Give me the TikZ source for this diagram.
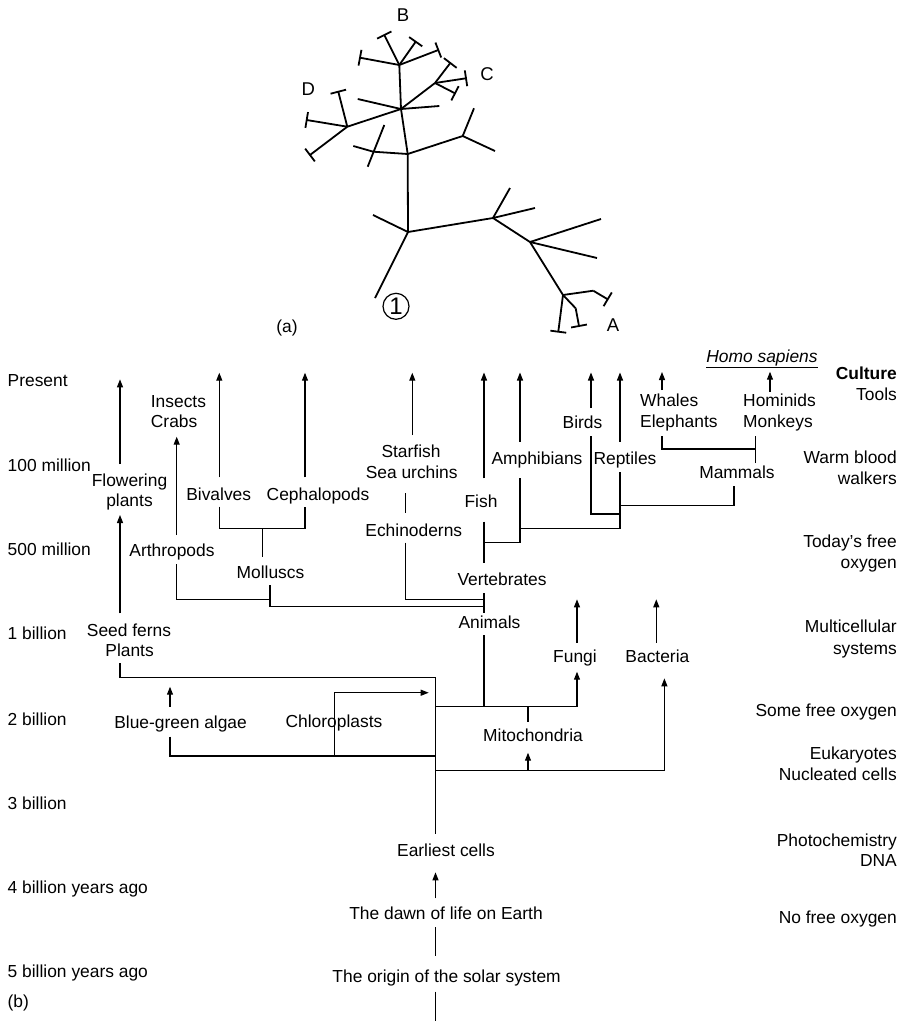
\documentclass[tikz,border=0pt]{standalone}
\usepackage{fontspec}
\setmainfont{Liberation Sans}
\usetikzlibrary{arrows.meta,calc}
\newcommand\tbr[2]{\draw[tree] (#1) -- (#2); \draw[tree] ($(#2)!8pt!90:(#1)$) -- ($(#2)!8pt!-90:(#1)$);}
\begin{document}
\begin{tikzpicture}[x=1pt,y=-1pt,
  tree/.style={line width=1.8pt},
  ln/.style={line width=1.1pt},
  arr/.style={line width=1.1pt,-{Triangle[length=8pt,width=6pt]}},
  lb/.style={font=\fontsize{17.4}{21}\selectfont,inner sep=0pt,text height=12.5pt,text depth=0pt},
  lw/.style={lb,anchor=west},
  le/.style={lb,anchor=east}]
\useasboundingbox (0,0) rectangle (902,1021);
% ---------------- (a) tree ----------------
\coordinate (r0) at (375,298);
\coordinate (n1) at (408,232);
\coordinate (l1) at (373,215);
\coordinate (n2) at (493,218);
\coordinate (l2a) at (510,188);
\coordinate (l2b) at (535,208);
\coordinate (n3) at (530,242);
\coordinate (l3a) at (601,219);
\coordinate (l3b) at (597,258);
\coordinate (n4) at (563,295);
\coordinate (k1) at (593.3,290.7);
\coordinate (a1) at (607.7,299.3);
\coordinate (k2) at (575.7,308.3);
\coordinate (a2) at (579,326);
\coordinate (a3) at (558.3,331.7);
\coordinate (n5) at (407.7,154);
\coordinate (m) at (373.3,151.7);
\coordinate (l5a) at (353.3,146);
\coordinate (x1) at (384.3,125);
\coordinate (x2) at (367.7,166.7);
\coordinate (q) at (462.7,136);
\coordinate (q1) at (474,108.3);
\coordinate (q2) at (495,151);
\coordinate (n6) at (401,109);
\coordinate (l6a) at (439.3,106);
\coordinate (l6b) at (357.7,99);
\coordinate (d) at (347.3,126.7);
\coordinate (d1) at (338.3,91.7);
\coordinate (d2) at (306.7,120);
\coordinate (d3) at (310,155);
\coordinate (c) at (435,83);
\coordinate (c1) at (450.3,63);
\coordinate (c2) at (466,78.3);
\coordinate (c3) at (455,93.3);
\coordinate (b) at (399.3,65);
\coordinate (b1) at (384.3,35);
\coordinate (b2) at (415.7,41.7);
\coordinate (b3) at (360,57.7);
\coordinate (b4) at (438.3,50);
\draw[tree] (r0) -- (n1) -- (n5) -- (n6) -- (b);
\draw[tree] (n1) -- (l1);
\draw[tree] (n1) -- (n2) -- (n3) -- (n4);
\draw[tree] (n2) -- (l2a);
\draw[tree] (n2) -- (l2b);
\draw[tree] (n3) -- (l3a);
\draw[tree] (n3) -- (l3b);
\draw[tree] (n4) -- (k1);
\tbr{k1}{a1}
\draw[tree] (n4) -- (k2);
\tbr{k2}{a2}
\tbr{n4}{a3}
\draw[tree] (n5) -- (m) -- (l5a);
\draw[tree] (x1) -- (x2);
\draw[tree] (n5) -- (q) -- (q1);
\draw[tree] (q) -- (q2);
\draw[tree] (n6) -- (l6a);
\draw[tree] (n6) -- (l6b);
\draw[tree] (n6) -- (d);
\tbr{d}{d1}
\tbr{d}{d2}
\tbr{d}{d3}
\draw[tree] (n6) -- (c);
\tbr{c}{c1}
\tbr{c}{c2}
\tbr{c}{c3}
\tbr{b}{b1}
\tbr{b}{b2}
\tbr{b}{b3}
\tbr{b}{b4}
\node[lb,font=\fontsize{18.5}{21}\selectfont] (lB) at (403,15) {B};
\node[lb,font=\fontsize{18.5}{21}\selectfont] (lC) at (487,74) {C};
\node[lb,font=\fontsize{18.5}{21}\selectfont] (lD) at (308.3,89.5) {D};
\node[lb,font=\fontsize{18.5}{21}\selectfont] (lA) at (613,325) {A};
\node[circle,draw,line width=1.2pt,minimum size=26pt,inner sep=0pt,font=\fontsize{24}{26}\selectfont] (one) at (396,306.3) {1};
\node[lb] (la) at (287,326) {(a)};
% ---------------- (b) axis labels ----------------
\node[lw] (t0) at (7.5,380.7) {Present};
\node[lw] (t1) at (7.5,465) {100 million};
\node[lw] (t2) at (7.5,549.3) {500 million};
\node[lw] (t3) at (7.5,633.3) {1 billion};
\node[lw] (t4) at (7.5,719.3) {2 billion};
\node[lw] (t5) at (7.5,803.3) {3 billion};
\node[lw] (t6) at (7.5,887.3) {4 billion years ago};
\node[lw] (t7) at (7.5,971) {5 billion years ago};
\node[lw] (lbb) at (7.5,1001.7) {(b)};
\node[le,font=\bfseries\fontsize{17.4}{21}\selectfont] (e1) at (897,373.3) {Culture};
\node[le] (e2) at (897,394) {Tools};
\node[le] (e3) at (897,457.7) {Warm blood};
\node[le] (e4) at (897,478.3) {walkers};
\node[le] (e5) at (897,541.7) {Today’s free};
\node[le] (e6) at (897,562.7) {oxygen};
\node[le] (e7) at (897,626) {Multicellular};
\node[le] (e8) at (897,648) {systems};
\node[le] (e9) at (897,710.7) {Some free oxygen};
\node[le] (e10) at (897,753.3) {Eukaryotes};
\node[le] (e11) at (897,774) {Nucleated cells};
\node[le] (e12) at (897,840) {Photochemistry};
\node[le] (e13) at (897,860) {DNA};
\node[le] (e14) at (897,917.3) {No free oxygen};
% ---------------- (b) taxa ----------------
\node[lb] (homo) at (762,356) {\underline{\textit{Homo sapiens}}};
\node[lw] (hom) at (743,400) {Hominids};
\node[lw] (mon) at (743,421) {Monkeys};
\node[lw] (wha) at (640,400) {Whales};
\node[lw] (ele) at (640,421) {Elephants};
\node[lb] (mam) at (737,472) {Mammals};
\node[lb] (bir) at (582.5,422.7) {Birds};
\node[lb] (rep) at (625,458) {Reptiles};
\node[lb] (amp) at (537,458) {Amphibians};
\node[lb] (fis) at (481,501.7) {Fish};
\node[lb] (ver) at (502,579.5) {Vertebrates};
\node[lb] (ani) at (489.5,622.7) {Animals};
\node[lb] (sta) at (411,451.7) {Starfish};
\node[lb] (sea) at (411.7,472.7) {Sea urchins};
\node[lb] (ech) at (413.8,530) {Echinoderns};
\node[lw] (ins) at (150.7,401) {Insects};
\node[lw] (cra) at (150.7,421.7) {Crabs};
\node[lb] (biv) at (218.7,494) {Bivalves};
\node[lb] (cep) at (318,494) {Cephalopods};
\node[lb] (art) at (172,550.7) {Arthropods};
\node[lb] (mol) at (270.5,572.5) {Molluscs};
\node[lb] (flo) at (129.5,480) {Flowering};
\node[lb] (fpl) at (129.5,500.7) {plants};
\node[lb] (see) at (129,630) {Seed ferns};
\node[lb] (pla) at (129.6,650.7) {Plants};
\node[lb] (blu) at (180.6,722.7) {Blue-green algae};
\node[lb] (chl) at (334,721) {Chloroplasts};
\node[lb] (mit) at (533,735) {Mitochondria};
\node[lb] (fun) at (575,656.7) {Fungi};
\node[lb] (bac) at (657.4,656.7) {Bacteria};
\node[lb] (ear) at (446,850) {Earliest cells};
\node[lb] (daw) at (446,913.3) {The dawn of life on Earth};
\node[lb] (ori) at (446.6,976.7) {The origin of the solar system};
% ---------------- (b) connectors ----------------
\coordinate (fl0) at (120,464);   \coordinate (fl1) at (120,379.3);
\coordinate (sf0) at (120,613.3); \coordinate (sf1) at (120,515);
\coordinate (pl0) at (120,663.3); \coordinate (pl1) at (120,677.5);
\coordinate (tk0) at (435.5,677.5); \coordinate (tk1) at (435.5,834.3);
\coordinate (ch0) at (334.5,756); \coordinate (ch1) at (334.5,692.7); \coordinate (ch2) at (428.7,692.7);
\coordinate (bg0) at (170,736.7); \coordinate (bg1) at (170,756); \coordinate (tkbg) at (435.5,756);
\coordinate (bga0) at (170,706.7); \coordinate (bga1) at (170,686.7);
\coordinate (tkj1) at (435.5,706.7); \coordinate (fu0) at (577,706.7); \coordinate (fu1) at (577,671.7);
\coordinate (an0) at (484,635); \coordinate (an1) at (484,706.7);
\coordinate (mi0) at (528,706.7); \coordinate (mi1) at (528,721.7);
\coordinate (mia0) at (528,770.7); \coordinate (mia1) at (528,752.7);
\coordinate (tkj2) at (435.5,770.7); \coordinate (ba0) at (664.4,770.7); \coordinate (ba1) at (664.4,678.3);
\coordinate (fua0) at (577,642.7); \coordinate (fua1) at (577,599.3);
\coordinate (baa0) at (656.3,642.7); \coordinate (baa1) at (656.3,599.3);
\coordinate (ve0) at (484,593.3); \coordinate (ve1) at (484,613.3);
\coordinate (ec0) at (405.7,542.7); \coordinate (ec1) at (405.7,599.3); \coordinate (ec2) at (484,599.3);
\coordinate (mo0) at (270,585); \coordinate (mo1) at (270,606.7); \coordinate (mo2) at (484,606.7);
\coordinate (ar0) at (176.7,564); \coordinate (ar1) at (176.7,599.3); \coordinate (ar2) at (270,599.3);
\coordinate (ara0) at (176.7,535); \coordinate (ara1) at (176.7,436.7);
\coordinate (bv0) at (219.3,506.7); \coordinate (bv1) at (219.3,528.3);
\coordinate (cp1) at (305,528.3); \coordinate (cp0) at (305,506.7);
\coordinate (ms0) at (262.7,528.3); \coordinate (ms1) at (262.7,556.7);
\coordinate (bva0) at (219.3,477.3); \coordinate (bva1) at (219.3,372.7);
\coordinate (cpa0) at (305,477.3); \coordinate (cpa1) at (305,372.7);
\coordinate (sta0) at (412.3,435); \coordinate (sta1) at (412.3,372.7);
\coordinate (su0) at (405.7,493.3); \coordinate (su1) at (405.7,513.3);
\coordinate (fia0) at (484,478.3); \coordinate (fia1) at (484,372.5);
\coordinate (fi0) at (484,521.7); \coordinate (fi1) at (484,563.3);
\coordinate (fj) at (484,542.7); \coordinate (am1) at (520,542.7); \coordinate (am0) at (520,478);
\coordinate (ama0) at (520,441.7); \coordinate (ama1) at (520,372.5);
\coordinate (am2) at (520,528.3); \coordinate (re1) at (620,528.3); \coordinate (re0) at (620,471.7);
\coordinate (rea0) at (620,441.7); \coordinate (rea1) at (620,372.5);
\coordinate (bia0) at (591,408); \coordinate (bia1) at (591,372.5);
\coordinate (bi0) at (591,436); \coordinate (bi1) at (591,514); \coordinate (re2) at (620,514);
\coordinate (re3) at (620,505.7); \coordinate (ma1) at (734,505.7); \coordinate (ma0) at (734,486);
\coordinate (mm0) at (755.7,463); \coordinate (mm1) at (755.7,436);
\coordinate (wh0) at (662,436); \coordinate (wh1) at (662,449); \coordinate (mm2) at (755.7,449);
\coordinate (wha0) at (662,390); \coordinate (wha1) at (662,372);
\coordinate (hoa0) at (770,391.7); \coordinate (hoa1) at (770,371.7);
\coordinate (ea0) at (435.5,898.3); \coordinate (ea1) at (435.5,872.3);
\coordinate (da0) at (435.5,927.3); \coordinate (da1) at (435.5,956);
\coordinate (or0) at (435.5,991.7); \coordinate (or1) at (435.5,1021);
\draw[arr] (fl0) -- (fl1);
\draw[arr] (sf0) -- (sf1);
\draw[ln] (pl0) -- (pl1) -- (tk0) -- (tk1);
\draw[arr] (ch0) -- (ch1) -- (ch2);
\draw[ln] (bg0) -- (bg1) -- (tkbg);
\draw[arr] (bga0) -- (bga1);
\draw[arr] (tkj1) -- (fu0) -- (fu1);
\draw[ln] (an0) -- (an1);
\draw[ln] (mi0) -- (mi1);
\draw[arr] (mia0) -- (mia1);
\draw[arr] (tkj2) -- (ba0) -- (ba1);
\draw[arr] (fua0) -- (fua1);
\draw[arr] (baa0) -- (baa1);
\draw[ln] (ve0) -- (ve1);
\draw[ln] (ec0) -- (ec1) -- (ec2);
\draw[ln] (mo0) -- (mo1) -- (mo2);
\draw[ln] (ar0) -- (ar1) -- (ar2);
\draw[arr] (ara0) -- (ara1);
\draw[ln] (bv0) -- (bv1) -- (cp1) -- (cp0);
\draw[ln] (ms0) -- (ms1);
\draw[arr] (bva0) -- (bva1);
\draw[arr] (cpa0) -- (cpa1);
\draw[arr] (sta0) -- (sta1);
\draw[ln] (su0) -- (su1);
\draw[arr] (fia0) -- (fia1);
\draw[ln] (fi0) -- (fi1);
\draw[ln] (fj) -- (am1) -- (am0);
\draw[arr] (ama0) -- (ama1);
\draw[ln] (am2) -- (re1) -- (re0);
\draw[arr] (rea0) -- (rea1);
\draw[arr] (bia0) -- (bia1);
\draw[ln] (bi0) -- (bi1) -- (re2);
\draw[ln] (re3) -- (ma1) -- (ma0);
\draw[ln] (mm0) -- (mm1);
\draw[ln] (wh0) -- (wh1) -- (mm2);
\draw[arr] (wha0) -- (wha1);
\draw[arr] (hoa0) -- (hoa1);
\draw[arr] (ea0) -- (ea1);
\draw[ln] (da0) -- (da1);
\draw[ln] (or0) -- (or1);
\end{tikzpicture}
\end{document}
